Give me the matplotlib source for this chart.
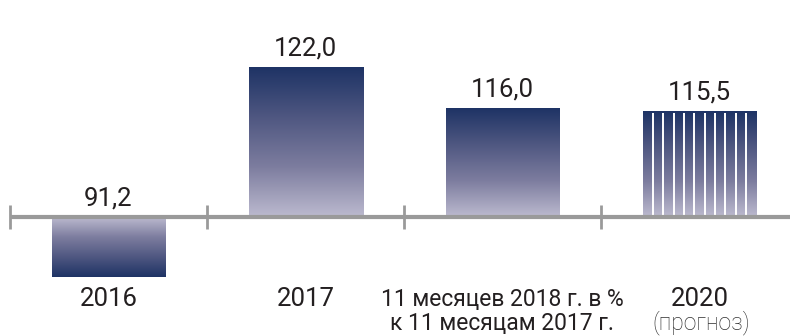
import numpy as np
import matplotlib
matplotlib.use('Agg')
import matplotlib.pyplot as plt
from matplotlib.colors import LinearSegmentedColormap

plt.rcParams['font.family'] = ['Roboto', 'DejaVu Sans']

categories = ['2016', '2017', '11 месяцев 2018 г. в %\nк 11 месяцам 2017 г.', '2020']
values = [91.2, 122.0, 116.0, 115.5]
value_labels = ['91,2', '122,0', '116,0', '115,5']
forecast = [False, False, False, True]
forecast_note = '(прогноз)'
base = 100.0

# pixel layout helpers
W, H = 790, 336
px_per_unit = 6.8
base_px = 217          # baseline, px from top
cat_px = 197           # spacing between categories, px
first_tick_px = 10

grad_cmap = LinearSegmentedColormap.from_list(
    'navy', ['#1e3365', '#4f5781', '#7d7d9f', '#bcbacf'])

fig = plt.figure(figsize=(W / 100, H / 100), dpi=100)
ax = fig.add_axes([0, 0, 1, 1])
ax.axis('off')

x_left = -0.5 - first_tick_px / cat_px
x_right = x_left + W / cat_px
y_bottom = base - (H - base_px) / px_per_unit
y_top = base + base_px / px_per_unit
ax.set_xlim(x_left, x_right)
ax.set_ylim(y_bottom, y_top)


def px(n):
    return n / px_per_unit


bar_w = 114 / cat_px
grad = np.linspace(0, 1, 256).reshape(-1, 1)
txt = '#231f20'

for i, (v, lab, fc) in enumerate(zip(values, value_labels, forecast)):
    x0, x1 = i - bar_w / 2, i + bar_w / 2
    lo, hi = min(v, base), max(v, base)
    # dark end always away from the baseline
    g = grad if v >= base else grad[::-1]
    ax.imshow(g, cmap=grad_cmap, aspect='auto', origin='upper',
              extent=(x0, x1, lo, hi), interpolation='bilinear', zorder=2)
    if fc:
        n = 11
        for k in range(1, n):
            xs = x0 + k * (x1 - x0) / n
            ax.plot([xs, xs], [base + px(2), hi - px(1)], color='white',
                    lw=1.4, solid_capstyle='butt', zorder=3)
    if v >= base:
        ty = v + px(12)
    else:
        ty = base + px(11)
    ax.text(i, ty, lab, ha='center', va='baseline', fontsize=18.5,
            color=txt, zorder=4)

# baseline with ticks between categories
ax.plot([x_left + first_tick_px / cat_px, x_right], [base, base],
        color='#9a9a9a', lw=3, solid_capstyle='butt', zorder=3)
for t in np.arange(len(values)) - 0.5:
    ax.plot([t, t], [base - px(12), base + px(12)], color='#9a9a9a',
            lw=2, solid_capstyle='butt', zorder=3)

# category labels (baseline of the last line is the anchor)
for i, c in enumerate(categories):
    if '\n' in c:
        fs, ty = 16.5, base - px(113)
    else:
        fs, ty = 18.5, base - px(89)
    ax.text(i, ty, c, ha='center', va='baseline', fontsize=fs,
            color=txt, linespacing=1.05)
    if forecast[i]:
        ax.text(i + 0.01, base - px(112), forecast_note, ha='center',
                va='baseline', fontsize=16.5, color='#2e2e2e',
                fontweight='light')

fig.savefig('out.png', dpi=100)
